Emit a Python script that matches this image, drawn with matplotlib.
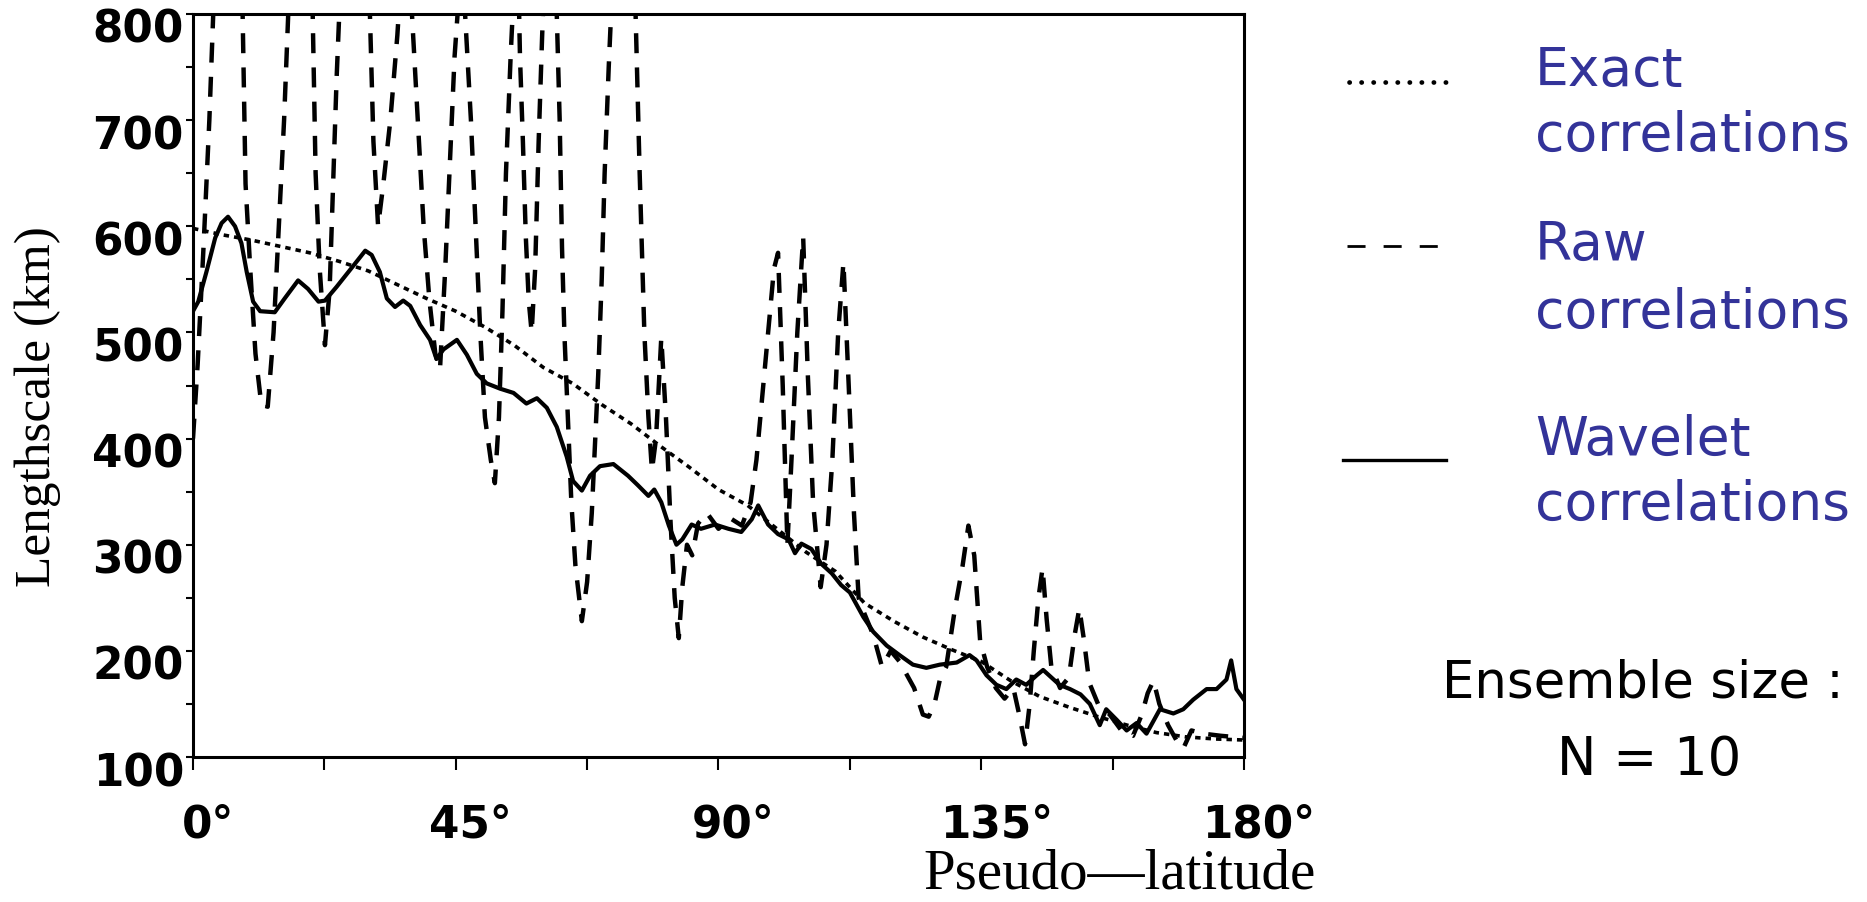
import matplotlib
matplotlib.use("Agg")
import matplotlib.pyplot as plt
from matplotlib.lines import Line2D
from matplotlib.transforms import ScaledTranslation
import numpy as np

# ---------------- data ----------------
exact_lat = [0, 5, 10, 15, 20, 25, 30, 35, 40, 45, 50, 55, 60, 65, 70, 75, 80, 85,
             90, 95, 100, 105, 110, 115, 120, 125, 130, 135, 140, 145, 150, 155,
             160, 165, 170, 175, 180]
exact_len = [598, 592, 587, 581, 575, 567, 558, 545, 532, 520, 505, 488, 467, 452,
             432, 414, 393, 373, 352, 337, 315, 293, 275, 245, 228, 213, 201, 190,
             172, 157, 147, 138, 130, 123, 119, 117, 116]

raw_lat = [0.0, 0.8, 1.8, 2.8, 3.6, 5.0, 7.5, 8.5, 9.0, 9.8, 10.7, 11.7, 12.8, 13.8,
           14.7, 15.6, 16.3, 17.5, 19.5, 20.5, 21.0, 21.7, 22.6, 23.4, 24.0, 24.6,
           25.2, 26.5, 29.5, 30.3, 30.9, 31.7, 32.6, 33.8, 35.0, 35.8, 36.5, 37.5,
           38.5, 39.5, 40.5, 41.5, 42.3, 43.2, 44.0, 44.8, 45.7, 46.2, 46.6, 47.6,
           48.4, 49.2, 50.0, 51.0, 51.7, 52.4, 53.0, 53.6, 54.4, 55.0, 55.5, 56.0,
           56.5, 57.0, 57.5, 58.0, 58.6, 59.2, 59.8, 60.3, 61.5, 62.3, 62.8, 63.2,
           63.6, 64.2, 64.8, 65.5, 66.6, 67.5, 68.3, 68.9, 69.4, 70.0, 70.5, 71.2,
           72.0, 73.5, 75.0, 75.8, 76.5, 77.3, 78.0, 78.6, 79.3, 80.2, 81.0, 81.8,
           82.5, 83.2, 83.8, 84.6, 85.5, 86.5, 88.0, 90.0, 92.0, 94.0, 95.5, 96.5,
           97.5, 98.5, 99.5, 100.2, 101.0, 101.8, 102.5, 103.5, 104.5, 105.3, 106.2,
           107.5, 108.5, 109.5, 110.5, 111.4, 112.3, 113.2, 114.0, 115.0, 116.5,
           118.0, 119.5, 121.0, 122.5, 123.5, 125.0, 126.0, 127.0, 128.0, 129.0,
           130.5, 131.8, 132.8, 133.8, 134.8, 136.0, 137.5, 139.0, 140.5, 141.5,
           142.5, 143.3, 144.0, 144.8, 145.5, 146.2, 147.0, 148.5, 150.0, 151.0,
           151.8, 152.6, 153.5, 155.0, 157.0, 159.0, 161.0, 162.5, 163.5, 164.5,
           165.5, 167.0, 168.5, 169.6, 171.0, 173.0, 176.0, 180.0]
raw_len = [400, 470, 580, 700, 820, 950, 950, 800, 640, 560, 480, 432, 430, 500,
           600, 700, 800, 950, 950, 800, 650, 560, 488, 540, 640, 740,
           820, 950, 950, 800, 680, 600, 640, 700, 780, 850, 950, 800,
           700, 600, 530, 480, 465, 560, 660, 760, 830, 950, 800, 700,
           600, 500, 420, 380, 358, 420, 520, 650, 760, 830, 900, 760,
           680, 590, 530, 500, 560, 680, 780, 850, 950, 800, 700, 580,
           500, 420, 340, 280, 228, 265, 330, 400, 460, 550, 650, 750,
           850, 950, 950, 800, 650, 500, 420, 370, 400, 495, 420, 320,
           250, 212, 260, 300, 290, 320, 330, 315, 325, 318, 340, 380,
           440, 500, 560, 575, 450, 300, 380, 500, 590, 460, 340,
           260, 300, 380, 500, 566, 450, 330, 250, 235, 215,
           185, 200, 190, 175, 165, 140, 138, 150, 175, 185,
           240, 280, 318, 290, 210, 185, 165, 155, 165, 140,
           112, 150, 200, 250, 278, 230, 185, 165, 175, 215,
           240, 210, 170, 150, 140, 125, 120, 140, 160, 172,
           150, 130, 115, 108, 125, 122, 120, 118]

wav_lat = [0, 0.9, 2.3, 3.8, 4.9, 6.0, 7.2, 8.3, 9.2, 10.3, 11.5, 14.0, 15.7, 18.0,
           19.7, 21.5, 22.6, 24.6, 27.2, 29.5, 30.6, 32.0, 33.2, 34.6, 36.0, 37.2,
           38.9, 40.6, 41.7, 42.9, 45.2, 46.9, 48.6, 50.3, 52.6, 54.9, 57.1, 58.9,
           60.6, 62.3, 64.0, 65.1, 66.6, 68.0, 69.7, 72.0, 74.5, 76.2, 78.0, 79.0,
           80.2, 81.5, 82.8, 83.8, 85.4, 87.0, 89.4, 91.7, 93.9, 95.7, 96.8, 98.5,
           100.2, 102.0, 103.1, 104.2, 105.9, 107.6, 109.4, 111.0, 112.5, 114.8,
           116.5, 118.8, 121.0, 123.3, 125.6, 127.9, 130.8, 133.0, 134.2, 135.9,
           137.6, 139.3, 141.0, 142.7, 144.5, 145.6, 147.0, 148.4, 150.2, 152.0,
           153.6, 155.3, 156.4, 158.2, 159.9, 161.6, 163.3, 165.6, 167.9, 169.6,
           171.3, 173.6, 175.3, 177.0, 177.8, 178.7, 180.0]
wav_len = [520, 529, 557, 589, 603, 609, 600, 584, 557, 529, 520, 519, 532, 549,
           541, 529, 530, 543, 561, 577, 573, 557, 532, 524, 530, 525,
           507, 493, 475, 484, 493, 479, 461, 452, 447, 443, 433, 438,
           429, 411, 383, 360, 351, 365, 374, 376, 365, 356, 346, 352,
           340, 318, 300, 305, 319, 315, 319, 315, 312, 324, 337, 319,
           310, 305, 292, 301, 296, 282, 273, 262, 255, 232,
           218, 205, 196, 187, 184, 187, 189, 196, 191, 177,
           168, 164, 173, 168, 177, 182, 175, 168, 164, 159,
           150, 130, 145, 135, 125, 132, 122, 145, 141, 145,
           154, 164, 164, 173, 191, 164, 154]

x_major = [0, 45, 90, 135, 180]
x_major_labels = ["0°", "45°", "90°", "135°", "180°"]
x_minor = [22.5, 67.5, 112.5, 157.5]
y_major = [100, 200, 300, 400, 500, 600, 700, 800]
y_minor = [150, 250, 350, 450, 550, 650, 750]

legend_names = [["Exact", "correlations"], ["Raw", "correlations"],
                ["Wavelet", "correlations"]]
ensemble_text = ["Ensemble size :", "N = 10"]

# ---------------- figure ----------------
BLUE = "#333399"
fig = plt.figure(figsize=(18.67, 9.02), dpi=100)
ax = fig.add_axes([0.10337, 0.16075, 0.56294, 0.82373])

ax.plot(exact_lat, exact_len, color="black", lw=2.6, linestyle=(0, (1.5, 1.4)))
ax.plot(raw_lat, raw_len, color="black", lw=3.2, linestyle=(0, (4.5, 3.2)))
ax.plot(wav_lat, wav_len, color="black", lw=3.0)

ax.set_xlim(0, 180)
ax.set_ylim(100, 800)
ax.set_xticks(x_major)
ax.set_xticklabels(x_major_labels)
ax.set_xticks(x_minor, minor=True)
ax.set_yticks(y_major)
ax.set_yticks(y_minor, minor=True)

for s in ax.spines.values():
    s.set_linewidth(2.2)

tick_font = dict(family="DejaVu Sans", weight="bold", size=31.5)
ax.tick_params(axis="x", which="both", direction="out", length=9.5, width=1.5, pad=24)
ax.tick_params(axis="y", which="both", direction="out", length=5, width=1.5, pad=1.5)
for lab in ax.get_xticklabels():
    lab.set_fontproperties(matplotlib.font_manager.FontProperties(**tick_font))
    lab.set_transform(lab.get_transform() + ScaledTranslation(0.15, 0, fig.dpi_scale_trans))
for lab in ax.get_yticklabels():
    lab.set_fontproperties(matplotlib.font_manager.FontProperties(**tick_font))
    lab.set_transform(lab.get_transform() + ScaledTranslation(0, -0.12, fig.dpi_scale_trans))

fig.text(0.0204, 0.5488, "Lengthscale (km)", rotation=90, ha="center", va="center",
         family="Liberation Serif", size=37)
fig.text(0.5994, 0.0150, "Pseudo\u2014latitude", ha="center", va="baseline",
         family="Liberation Serif", size=41)

# legend samples
fig.add_artist(Line2D([0.7225, 0.7755], [0.909, 0.909], transform=fig.transFigure,
                      color="black", lw=3.4, linestyle=(0, (0.05, 2.5)),
                      dash_capstyle="round"))
fig.add_artist(Line2D([0.7215, 0.772], [0.7273, 0.7273], transform=fig.transFigure,
                      color="black", lw=2.0, linestyle=(0, (6.5, 6.5))))
fig.add_artist(Line2D([0.7193, 0.7745], [0.490, 0.490], transform=fig.transFigure,
                      color="black", lw=2.4))

name_pos = [(0.9052, 0.8326), (0.7118, 0.6364), (0.4956, 0.4235)]
for (l1, l2), (y1, y2) in zip(legend_names, name_pos):
    fig.text(0.8222, y1, l1, color=BLUE, family="DejaVu Sans", size=38.5, va="baseline")
    fig.text(0.8222, y2, l2, color=BLUE, family="DejaVu Sans", size=38.5, va="baseline")

fig.text(0.7724, 0.2262, ensemble_text[0], color="black", family="DejaVu Sans",
         size=37, va="baseline")
fig.text(0.834, 0.1408, ensemble_text[1], color="black", family="DejaVu Sans",
         size=38, va="baseline")

fig.savefig("out.png", dpi=100)
